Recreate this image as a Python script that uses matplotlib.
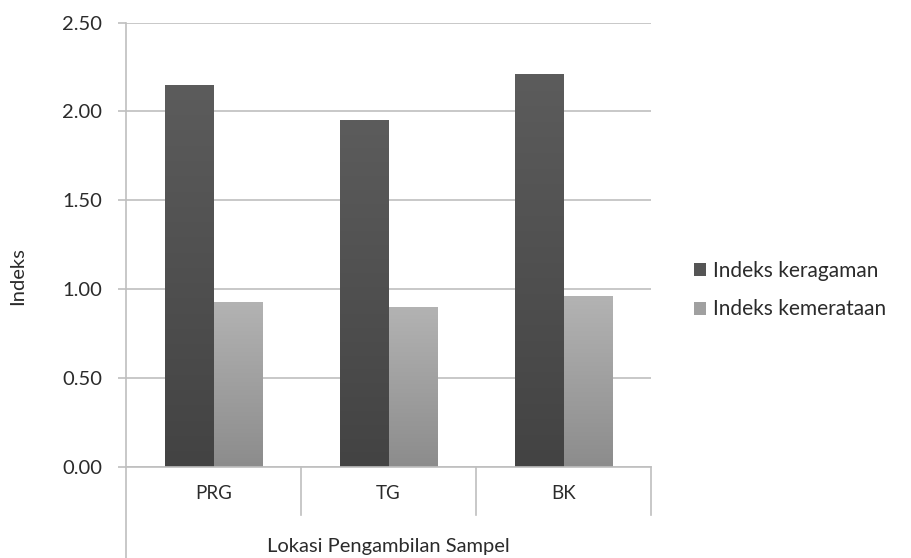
import numpy as np
import matplotlib.pyplot as plt

lokasi = ['PRG', 'TG', 'BK']
keragaman = [2.15, 1.95, 2.21]
kemerataan = [0.93, 0.90, 0.96]
yticks = [0.0, 0.5, 1.0, 1.5, 2.0, 2.5]

plt.rcParams['font.family'] = ['Lato', 'DejaVu Sans']

W, H = 911, 558
fig = plt.figure(figsize=(W / 100, H / 100), dpi=100)
ax = fig.add_axes([126 / W, 1 - 467 / H, (651 - 126) / W, (467 - 22.5) / H])

x = np.arange(len(lokasi))
w = 0.28
grid_c = '#bfbfbf'
txt_c = '#2b2b2b'


def gradient_bars(bars, top_c, bot_c):
    grad = np.linspace(0, 1, 256).reshape(-1, 1)
    c1 = np.array(plt.matplotlib.colors.to_rgb(top_c))
    c2 = np.array(plt.matplotlib.colors.to_rgb(bot_c))
    img = c1 + (c2 - c1) * grad[..., None]
    for b in bars:
        x0, y0 = b.get_x(), b.get_y()
        im = ax.imshow(img, extent=[x0, x0 + b.get_width(), y0, y0 + b.get_height()],
                       aspect='auto', origin='upper', zorder=3)
        im.set_clip_path(b)


b1 = ax.bar(x - w / 2, keragaman, w, color='#555555', label='Indeks keragaman', zorder=3)
b2 = ax.bar(x + w / 2, kemerataan, w, color='#a0a0a0', label='Indeks kemerataan', zorder=3)
gradient_bars(b1, '#5c5c5c', '#434343')
gradient_bars(b2, '#b3b3b3', '#8c8c8c')

ax.set_xlim(-0.5, 2.5)
ax.set_ylim(0, 2.5)
ax.set_yticks(yticks)
ax.set_yticklabels(['%.2f' % v for v in yticks], fontsize=14.5, color=txt_c)
ax.yaxis.grid(True, color=grid_c, linewidth=1.2, zorder=0)
ax.set_axisbelow(True)
ax.tick_params(axis='y', length=6, color=grid_c, width=1.2, pad=11)

ax.set_xticks(x)
ax.set_xticklabels(lokasi, fontsize=13.5, color=txt_c)
ax.tick_params(axis='x', length=0, pad=13)

for s in ['top', 'right', 'bottom']:
    ax.spines[s].set_visible(False)
ax.spines['left'].set_color(grid_c)
ax.spines['left'].set_linewidth(1.2)
ax.spines['left'].set_bounds(0, 2.5)

# category box lines under the axis
tr = ax.get_xaxis_transform()
ax.plot([-0.5, -0.5], [0, -0.205], color=grid_c, lw=1.2, transform=tr, clip_on=False)
for xs in [0.5, 1.5, 2.5]:
    ax.plot([xs, xs], [0, -0.109], color=grid_c, lw=1.2, transform=tr, clip_on=False)
ax.plot([-0.5, 2.5], [0, 0], color=grid_c, lw=1.2, transform=tr, clip_on=False, zorder=5)

ax.set_xlabel('Lokasi Pengambilan Sampel', fontsize=14.5, color=txt_c, labelpad=26)
ax.set_ylabel('Indeks', fontsize=14.5, color=txt_c)
ax.yaxis.set_label_coords(-0.19, 0.43)

ax.legend(loc='center left', bbox_to_anchor=(1.062, 0.398), frameon=False, fontsize=15,
          handlelength=0.6, handleheight=0.6, handletextpad=0.3, labelspacing=0.9,
          labelcolor=txt_c, borderpad=0)

fig.savefig('out.png', dpi=100)
